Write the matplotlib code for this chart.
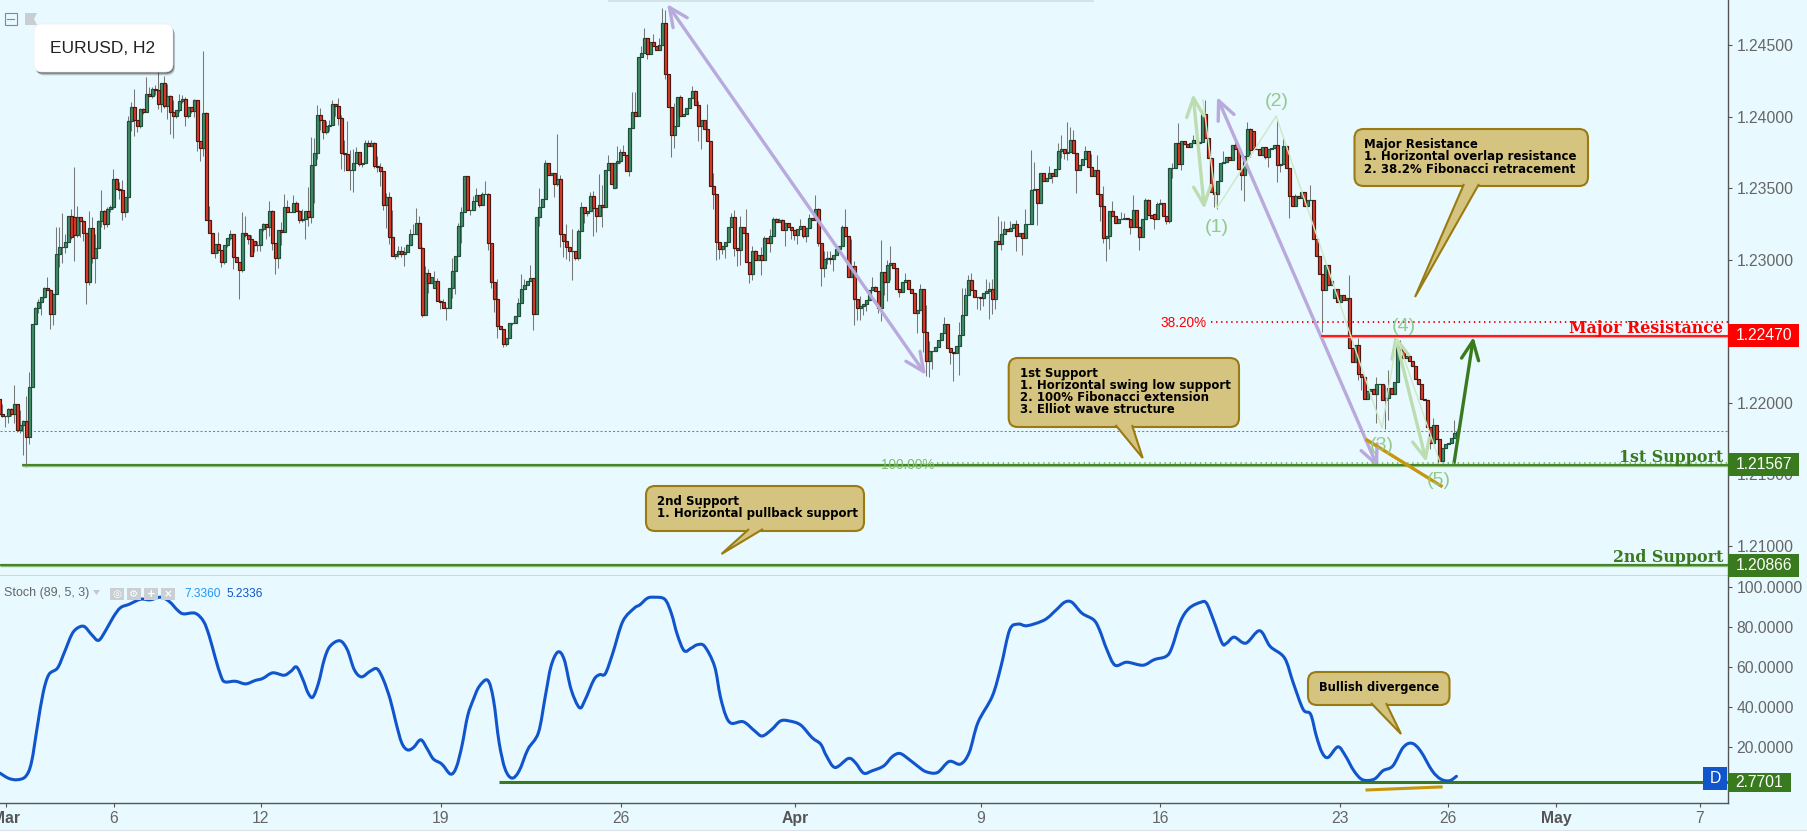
import matplotlib
matplotlib.use("Agg")
import matplotlib.pyplot as plt
import numpy as np
from matplotlib.patches import FancyBboxPatch, PathPatch, Polygon, Rectangle
from matplotlib.path import Path

BG = "#E8F9FF"
AXIS = "#555555"
GREY = "#666666"
GREEN = "#3A7A1E"
RED = "#FF0000"
PURPLE = "#B9A9DC"
PALE = "#BCDDB0"
GOLD = "#C8960C"
BLUE = "#1155CC"

# candles are in pips above 1.20000, one close per H2 bar
BASE = 1.2
PIP = 0.0001
first_open = 202.5
closes = [
    192.3, 191.1, 191.1, 195.5, 192.0, 199.5, 180.8, 184.3, 187.1, 176.0,
    211.4, 255.0, 266.2, 270.8, 274.3, 280.1, 279.0, 262.4, 276.0, 303.9,
    308.8, 308.8, 312.3, 330.5, 315.8, 317.2, 329.8, 327.0, 318.6, 284.3,
    322.1, 301.1, 308.1, 327.0, 334.0, 324.9, 335.4, 336.8, 356.4, 349.4,
    348.7, 333.3, 343.8, 396.9, 406.7, 397.6, 393.4, 405.3, 403.2, 415.8,
    414.4, 419.3, 418.6, 408.8, 423.5, 407.4, 414.4, 403.2, 400.4, 404.6,
    410.9, 412.3, 400.4, 406.7, 403.9, 411.6, 382.9, 378.0, 402.5, 327.7,
    318.6, 304.6, 310.9, 306.7, 298.3, 310.2, 315.1, 317.9, 301.8, 298.3,
    292.7, 318.6, 317.2, 314.4, 303.1, 310.3, 310.3, 321.5, 325.0, 322.9,
    334.1, 311.7, 301.2, 320.8, 319.4, 336.9, 333.4, 333.4, 339.6, 334.1,
    327.8, 328.7, 334.1, 329.9, 366.2, 374.6, 401.2, 397.7, 389.3, 393.5,
    394.2, 408.9, 407.5, 399.1, 374.6, 373.9, 362.7, 362.7, 367.6, 375.3,
    366.9, 367.6, 381.6, 379.5, 381.6, 365.5, 364.8, 362.0, 338.3, 343.8,
    315.9, 302.6, 304.0, 306.1, 304.0, 305.4, 310.3, 318.0, 318.0, 325.7,
    308.2, 261.3, 290.7, 283.7, 287.9, 285.1, 271.1, 270.4, 266.2, 266.2,
    280.2, 292.1, 302.6, 323.6, 333.4, 358.5, 334.8, 334.8, 341.1, 345.2,
    338.3, 345.9, 345.9, 311.7, 284.4, 272.5, 253.6, 251.5, 241.2, 245.2,
    255.7, 256.2, 260.8, 270.1, 279.5, 282.5, 285.5, 287.2, 262.0, 329.8,
    337.3, 342.4, 367.6, 359.2, 360.6, 352.9, 356.4, 317.9, 313.0, 308.8,
    306.0, 306.0, 301.1, 320.0, 336.8, 332.6, 334.0, 344.5, 336.1, 330.5,
    338.2, 336.8, 362.7, 367.6, 352.9, 367.6, 369.0, 375.3, 373.2, 362.0,
    392.1, 403.2, 400.4, 441.7, 444.5, 455.0, 443.8, 452.2, 449.4, 446.6,
    450.1, 465.5, 429.8, 406.7, 387.2, 393.5, 413.7, 400.4, 401.8, 406.0,
    413.0, 417.9, 408.1, 393.5, 397.6, 391.4, 383.0, 351.5, 345.9, 312.3,
    307.4, 309.5, 312.3, 322.8, 329.8, 308.1, 306.7, 322.8, 318.6, 298.3,
    290.0, 306.0, 299.7, 303.2, 299.7, 315.1, 311.6, 316.5, 328.4, 326.3,
    327.7, 320.7, 325.6, 322.8, 320.7, 317.2, 321.4, 323.5, 316.5, 322.1,
    329.1, 327.7, 335.4, 311.6, 294.1, 300.4, 301.1, 300.4, 303.2, 307.4,
    309.5, 322.8, 316.5, 287.8, 295.5, 272.5, 266.2, 267.6, 269.0, 271.7,
    278.7, 280.8, 278.0, 266.2, 291.3, 284.3, 296.2, 297.6, 294.1, 279.4,
    277.3, 284.3, 285.7, 279.4, 276.6, 262.7, 264.8, 279.4, 249.4, 229.1,
    236.1, 236.1, 238.9, 243.8, 248.7, 255.0, 238.2, 235.4, 234.7, 239.6,
    247.3, 261.3, 275.2, 285.7, 278.7, 273.8, 274.3, 273.1, 276.6, 278.0,
    279.4, 272.5, 313.0, 310.9, 318.0, 321.5, 320.1, 322.2, 325.0, 316.6,
    318.7, 315.2, 325.0, 325.0, 349.0, 349.4, 339.6, 360.6, 355.0, 357.1,
    360.6, 358.5, 363.4, 376.0, 377.4, 374.6, 375.3, 383.7, 374.6, 362.7,
    366.2, 370.4, 376.0, 364.8, 358.5, 362.7, 345.9, 337.5, 315.2, 316.6,
    334.0, 330.5, 325.6, 328.4, 328.4, 329.1, 328.4, 322.9, 334.7, 322.9,
    315.9, 328.4, 341.7, 331.2, 329.1, 328.4, 338.9, 339.6, 330.5, 327.1,
    364.1, 364.1, 381.6, 366.9, 383.0, 380.9, 378.8, 381.6, 383.7, 381.6,
    382.3, 401.9, 385.1, 371.1, 347.3, 345.9, 355.0, 367.6, 368.3, 371.8,
    369.7, 380.2, 377.4, 363.4, 359.2, 372.5, 391.4, 376.7, 377.4, 377.4,
    373.2, 378.8, 371.8, 377.4, 378.1, 380.2, 366.2, 366.9, 379.5, 364.1,
    344.5, 337.5, 344.5, 343.1, 347.3, 337.5, 341.7, 341.7, 314.5, 302.6,
    290.0, 278.8, 296.3, 282.3, 285.1, 279.5, 270.4, 275.3, 271.8, 273.2,
    238.2, 228.5, 240.3, 220.1, 218.0, 202.6, 208.2, 209.6, 206.1, 213.1,
    213.1, 201.9, 203.3, 210.3, 206.1, 214.5, 240.3, 236.8, 231.2, 232.7,
    229.2, 225.7, 216.6, 213.1, 202.6, 201.9, 183.0, 171.8, 184.4, 174.6,
    159.2, 168.3, 171.1, 171.8, 175.3, 178.8, 179.5,
]
# bars whose open does not sit on the previous close
gap_opens = {25: 329.8, 85: 313.1, 145: 280.2, 205: 350.1, 385: 331.9, 418: 390.0, 445: 273.2}

# wick lengths in pips beyond the body
upper_wicks = [
    0, 7, 0, 1, 1, 13, 0, 11, 1, 18, 10, 0, 1, 2, 0, 1, 8, 1, 1, 19,
    14, 24, 6, 0, 5, 35, 8, 0, 1, 0, 12, 8, 10, 1, 15, 1, 2, 2, 7, 1,
    5, 7, 0, 4, 4, 13, 0, 1, 1, 12, 5, 2, 3, 13, 0, 5, 9, 1, 9, 0,
    5, 3, 2, 0, 0, 1, 0, 0, 44, 1, 10, 0, 0, 9, 0, 0, 0, 3, 0, 0,
    0, 15, 12, 0,
    3, 0, 3, 0, 1, 0, 7, 1, 0, 0, 6, 9, 5, 0, 6, 2, 1, 7, 0, 17,
    20, 11, 7, 5, 0, 4, 4, 3, 0, 6, 2, 9, 23, 14, 10, 4, 0, 0, 2, 2,
    2, 1, 7, 3, 0, 3, 4, 19, 0, 4, 4, 4, 1, 4, 7, 11, 5, 1, 5, 3,
    0, 7, 2, 1, 2, 1, 0, 9, 0, 2, 4, 0, 0, 0, 4, 5, 0, 2, 9, 1,
    0, 0, 14,
    0, 0, 0, 0, 0, 0, 3, 11, 4, 0, 9, 0, 0, 13, 0, 2, 0, 0, 0, 32,
    3, 0, 12, 0, 16, 0, 2, 4, 0, 0, 3, 4, 0, 22, 14, 0, 6, 0, 0, 11,
    2, 5, 0, 0, 14, 14, 0, 5, 7, 0, 0, 6, 0, 5, 11, 9, 0, 0, 16, 0,
    2, 0, 0, 0, 4, 1, 3, 0, 0, 18, 0, 9, 0, 0, 0, 0, 0, 3, 5, 0,
    8, 0, 17, 0,
    4, 1, 0, 6, 2, 0, 5, 2, 1, 2, 1, 0, 0, 0, 0, 0, 5, 0, 0, 3,
    0, 10, 1, 0, 6, 5, 5, 0, 0, 0, 2, 13, 0, 19, 4, 0, 7, 0, 0, 0,
    7, 1, 0, 23, 0, 4, 12, 0, 0, 0, 0, 5, 0, 0, 0, 0, 4, 0, 19, 7,
    0, 0, 0, 0, 5, 0, 0, 0, 0, 9, 19, 5, 4, 5, 0, 0, 0, 0, 9, 5,
    7, 0, 18,
    9, 6, 0, 5, 0, 3, 0, 0, 11, 0, 28, 19, 0, 0, 0, 0, 5, 0, 0, 6,
    10, 0, 21, 9, 7, 0, 0, 0, 4, 0, 9, 0, 11, 0, 14, 0, 0, 7, 0, 0,
    5, 4, 0, 0, 11, 0, 0, 0, 2, 1, 0, 0, 2, 3, 0, 0, 0, 4, 0, 14,
    0, 0, 0, 0, 4, 0, 0, 3, 10, 0, 0, 0, 0, 0, 8, 0, 0, 0, 2, 0,
    0, 0, 5,
    1, 0, 0, 0, 0, 0, 0, 0, 0, 18, 0, 6, 0, 0, 0, 2, 0, 0, 0, 0,
    11, 0, 0, 0, 0, 0, 0, 3, 0, 0, 0, 0, 0, 16, 0, 0, 5, 0, 0, 0,
    0, 0, 5, 0, 0, 9, 13, 0, 0, 0, 4, 0, 0, 0, 0, 0, 0, 0, 0, 0,
    0, 5, 0, 0, 0, 0, 0, 0, 9, 2,
]
lower_wicks = [
    1, 1, 8, 5, 1, 6, 1, 2, 21, 21, 5, 0, 0, 3, 9, 1, 0, 11, 8, 0,
    9, 11, 4, 0, 1, 18, 1, 11, 5, 15, 2, 3, 17, 0, 4, 3, 2, 2, 1, 0,
    6, 5, 3, 10, 7, 11, 4, 1, 1, 0, 0, 1, 3, 3, 5, 1, 9, 15, 15, 1,
    1, 1, 7, 1, 1, 4, 7, 9, 5, 0, 0, 0, 3, 2, 3, 1, 1, 1, 8, 0,
    20, 1, 1, 3,
    0, 5, 4, 4, 1, 8, 6, 5, 11, 7, 9, 0, 0, 0, 0, 0, 2, 1, 14, 6,
    4, 26, 4, 7, 5, 1, 3, 0, 7, 5, 11, 12, 0, 14, 15, 0, 1, 2, 0, 0,
    0, 1, 3, 10, 3, 16, 5, 0, 2, 2, 2, 8, 0, 0, 0, 0, 0, 1, 0, 7,
    0, 0, 0, 5, 0, 8, 0, 7, 16, 0, 12, 0, 0, 3, 0, 0, 1, 0, 0, 5,
    4, 9, 8,
    0, 2, 1, 0, 1, 0, 0, 0, 0, 0, 0, 11, 0, 6, 0, 0, 0, 0, 9, 1,
    9, 11, 8, 7, 20, 1, 1, 0, 7, 2, 0, 19, 11, 0, 14, 0, 0, 0, 0, 17,
    1, 0, 0, 3, 0, 0, 0, 0, 0, 3, 0, 0, 0, 0, 0, 3, 0, 15, 9, 0,
    0, 0, 0, 0, 0, 0, 10, 16, 0, 0, 0, 10, 12, 7, 3, 8, 0, 0, 5, 11,
    10, 0, 0, 6,
    4, 0, 0, 10, 0, 0, 6, 0, 0, 0, 0, 11, 0, 6, 3, 6, 0, 1, 4, 0,
    0, 0, 2, 12, 6, 3, 3, 8, 0, 0, 0, 0, 0, 0, 18, 8, 8, 6, 5, 0,
    0, 0, 3, 9, 9, 13, 10, 0, 0, 3, 0, 0, 0, 0, 0, 14, 0, 14, 10, 11,
    12, 0, 0, 0, 0, 0, 8, 19, 0, 20, 0, 0, 0, 0, 0, 8, 8, 5, 0, 19,
    10, 7, 0,
    4, 0, 0, 0, 0, 10, 0, 12, 0, 0, 0, 0, 15, 0, 0, 0, 0, 5, 0, 0,
    5, 4, 5, 0, 0, 16, 0, 0, 0, 0, 0, 0, 0, 10, 3, 16, 9, 0, 0, 0,
    0, 0, 0, 5, 0, 0, 9, 0, 0, 0, 0, 7, 0, 0, 0, 2, 1, 7, 0, 0,
    4, 0, 0, 0, 0, 0, 0, 0, 0, 0, 0, 9, 10, 0, 0, 0, 0, 0, 0, 0,
    10, 18, 0,
    5, 0, 0, 0, 0, 1, 7, 0, 0, 12, 5, 0, 0, 15, 0, 0, 0, 0, 0, 0,
    0, 0, 0, 0, 29, 0, 0, 0, 0, 0, 0, 0, 0, 0, 0, 0, 4, 9, 0, 0,
    0, 0, 20, 0, 0, 20, 15, 0, 0, 0, 0, 0, 0, 0, 0, 0, 0, 0, 0, 0,
    4, 0, 0, 0, 0, 0, 0, 0, 0, 0,
]

# stochastic line, read as (bar, value)
stoch_bars = [
    0.2, 3.1, 6.0, 8.8, 10.7, 12.7, 14.6, 16.5, 19.4, 21.6, 24.1, 26.0, 28.3, 30.8, 33.1, 35.6,
    38.1, 40.4, 43.3, 47.1, 50.3, 53.8, 56.7, 59.5, 61.4, 65.3, 68.1, 70.0, 72.0, 73.9, 75.2, 78.7,
    82.1, 85.3, 87.8, 91.1, 94.9, 97.2, 99.1, 101.2, 102.9, 104.5, 106.4, 108.3, 110.2, 113.5, 116.0, 118.3,
    120.7, 123.6, 125.9, 128.0, 130.3, 132.2, 134.1, 136.0, 138.0, 140.5, 142.7, 144.7, 147.5, 150.4, 152.3, 154.2,
    156.1, 158.0, 160.0, 162.8, 164.7, 166.6, 168.6, 170.9, 173.3, 176.2, 179.7, 182.0, 183.9, 186.2, 188.3, 190.6,
    193.4, 195.3, 198.2, 200.1, 202.0, 204.5, 207.8, 211.6, 213.5, 216.0, 218.3, 221.8, 224.0, 226.0, 228.3, 230.7,
    232.7, 235.1, 238.4, 240.3, 242.2, 244.1, 248.0, 251.8, 254.3, 257.5, 260.4, 263.3, 267.1, 270.9, 273.8, 275.7,
    278.6, 283.0, 285.3, 288.1, 291.0, 294.8, 297.7, 300.2, 303.1, 306.0, 308.9, 312.7, 316.6, 320.4, 323.3, 326.2,
    331.0, 333.9, 336.8, 339.7, 342.6, 348.4, 352.3, 355.1, 357.5, 360.9, 364.8, 366.7, 369.2, 371.9, 375.8, 381.2,
    385.0, 388.9, 390.8, 393.7, 396.6, 400.5, 402.4, 404.7, 407.6, 409.1, 411.6, 415.5, 420.1, 423.6, 428.4, 431.3,
    434.6, 437.1, 439.0, 440.9, 442.9, 446.2, 448.7, 451.5, 454.4, 458.3, 461.2, 464.5, 467.9, 470.8, 473.7, 477.6,
    480.5, 483.4, 485.7,
]
stoch_values = [
    7.2, 4.6, 3.9, 5.6, 12.5, 30.7, 47.2, 56.3, 59.6, 67.1, 76.2, 79.5, 80.3, 76.2, 73.4, 78.7,
    85.3, 89.7, 91.4, 93.9, 93.6, 94.9, 92.7, 88.3, 86.6, 86.9, 82.8, 75.4, 64.6, 55.5, 52.7, 53.0,
    51.7, 53.4, 54.4, 57.2, 56.0, 58.0, 60.1, 53.8, 47.2, 45.1, 52.2, 63.8, 70.4, 73.2, 68.7, 58.8,
    55.2, 58.0, 59.2, 53.8, 43.9, 32.4, 22.4, 18.8, 19.9, 23.8, 19.1, 14.2, 11.7, 6.7, 10.0, 20.8,
    35.7, 43.9, 50.5, 53.5, 43.9, 22.4, 9.2, 4.7, 8.4, 19.1, 27.4, 45.6, 60.5, 67.6, 63.8, 48.9,
    39.8, 43.9, 53.8, 56.3, 56.8, 67.1, 82.8, 89.4, 91.1, 94.4, 94.9, 93.9, 86.9, 76.2, 68.2, 69.6,
    71.2, 70.4, 60.5, 45.6, 35.7, 32.0, 32.8, 28.2, 25.7, 29.0, 33.2, 33.2, 31.2, 24.9, 21.6, 15.8,
    10.0, 14.5, 12.5, 7.2, 8.4, 10.8, 15.5, 17.0, 14.2, 10.8, 7.9, 7.5, 13.0, 11.7, 17.5, 32.4,
    45.6, 60.5, 78.7, 81.5, 80.7, 83.6, 88.6, 92.4, 92.4, 86.9, 83.6, 78.7, 68.7, 61.0, 62.5, 61.0,
    63.8, 65.4, 69.6, 82.8, 89.4, 92.4, 91.9, 83.6, 72.0, 72.0, 75.0, 72.0, 78.2, 70.4, 64.6, 52.2,
    39.0, 36.5, 25.7, 17.5, 15.0, 20.3, 15.8, 8.4, 3.9, 4.2, 8.4, 10.8, 19.9, 22.1, 18.3, 8.4,
    4.2, 3.4, 5.6,
]

date_ticks = [2.2, 38.2, 87.2, 147.2, 207.2, 265.2, 327.2, 386.9, 446.9, 482.9, 518.9, 566.9]
date_labels = ["Mar", "6", "12", "19", "26", "Apr", "9", "16", "23", "26", "May", "7"]
month_labels = ["Mar", "Apr", "May"]
price_ticks = [1.245, 1.24, 1.235, 1.23, 1.225, 1.22, 1.215, 1.21]
stoch_ticks = [20, 40, 60, 80, 100]

major_resistance = 1.2247
first_support = 1.21567
second_support = 1.20866
fib_382 = 1.22566
fib_100 = 1.2158
last_price_line = 1.21804
stoch_support = 2.7701

# drawn lines on the chart as (bar, price)
wave_bars = [401.2, 405.9, 425.6, 460.9, 465.9, 480.2]
wave_prices = [1.24119, 1.23364, 1.24007, 1.21825, 1.22455, 1.21587]


def price_px(p):
    return 117 + (1.24 - p) * 14300


def stoch_px(v):
    return 587 + (100 - v) * 2.0055


def smooth_path(xs, ys):
    # bezier through the points, the line is rounded in the original
    pts = np.column_stack([xs, ys])
    verts = [pts[0]]
    codes = [Path.MOVETO]
    for k in range(len(pts) - 1):
        p0 = pts[max(k - 1, 0)]
        p1, p2 = pts[k], pts[k + 1]
        p3 = pts[min(k + 2, len(pts) - 1)]
        verts += [p1 + (p2 - p0) / 6, p2 - (p3 - p1) / 6, p2]
        codes += [Path.CURVE4] * 3
    return Path(verts, codes)


def arrow(ax, start, end, color, lw, both=False, alpha=1.0):
    head = "<->" if both else "->"
    ax.annotate("", xy=end, xytext=start, annotation_clip=False,
                arrowprops=dict(arrowstyle=head + ",head_length=1.35,head_width=0.62", color=color,
                                lw=lw, alpha=alpha, shrinkA=0, shrinkB=0, mutation_scale=10))


def callout(ov, x0, y0, x1, y1, pointer, lines, text_x, text_y, pitch=12.2, size=8.5):
    ov.add_patch(FancyBboxPatch((x0, y0), x1 - x0, y1 - y0, boxstyle="round,pad=0,rounding_size=9",
                                fc="#D4C47F", ec="#9A7B12", lw=1.5, zorder=5))
    ov.add_patch(Polygon(pointer, closed=False, fc="#D4C47F", ec="#9A7B12", lw=1.5, zorder=6,
                         joinstyle="miter"))
    for k, line in enumerate(lines):
        ov.text(text_x, text_y + k * pitch, line, fontsize=size, fontweight="bold", color="black",
                family="DejaVu Sans", va="center", ha="left", zorder=7)


closes_a = np.array(closes)
opens_a = np.r_[first_open, closes_a[:-1]]
for idx, val in gap_opens.items():
    opens_a[idx] = val
bars = np.arange(len(closes_a))
tops = np.maximum(opens_a, closes_a)
bots = np.minimum(opens_a, closes_a)
highs = tops + np.array(upper_wicks)
lows = bots - np.array(lower_wicks)

plt.rcParams["font.family"] = ["Liberation Sans", "DejaVu Sans"]

W, H = 1807, 833
fig = plt.figure(figsize=(W / 100, H / 100), dpi=100, facecolor=BG)
ax = fig.add_axes([0, (H - 576) / H, 1728 / W, 576 / H], facecolor=BG)
st = fig.add_axes([0, (H - 803) / H, 1728 / W, 227 / H], facecolor=BG)

xlim = (0.223, 576.22)
ax.set_xlim(*xlim)
ax.set_ylim(1.24 - 459 / 14300, 1.24 + 117 / 14300)
st.set_xlim(*xlim)
st.set_ylim(100 - 216 / 2.0055, 100 + 11 / 2.0055)

# candles
to_price = lambda a: BASE + np.asarray(a) * PIP
ax.vlines(bars, to_price(lows), to_price(highs), color="#777777", lw=0.75, zorder=2)
is_up = closes_a >= opens_a
for mask, fill, edge in [(is_up, "#3E8E68", "#1F4F3A"), (~is_up, "#DE3A28", "#4A1A12")]:
    ax.bar(bars[mask], (tops[mask] - bots[mask]) * PIP, bottom=to_price(bots[mask]), width=0.8,
           color=fill, edgecolor=edge, linewidth=0.85, zorder=3)

# horizontal levels
ax.plot(xlim, [last_price_line] * 2, color="#4F9A78", lw=0.75, ls=(0, (2, 2)), zorder=1)
ax.plot([312.6, xlim[1]], [fib_100] * 2, color="#7FBF6A", lw=1.4, ls=(0, (0.7, 1.9)), zorder=4)
ax.plot([403.9, xlim[1]], [fib_382] * 2, color=RED, lw=1.4, ls=(0, (0.7, 1.9)), zorder=4)
for start, level, dark, soft in [(7.6, first_support, GREEN, "#8DBB78"), (xlim[0], second_support, GREEN, "#8DBB78"),
                                 (440.6, major_resistance, RED, "#FF9A9A")]:
    ax.plot([start, xlim[1]], [level] * 2, color=soft, lw=2.4, zorder=4, solid_capstyle="butt")
    ax.plot([start, xlim[1]], [level] * 2, color=dark, lw=1.2, zorder=4, solid_capstyle="butt")

# wave count and arrows
ax.plot(wave_bars, wave_prices, color="#CDE8C2", lw=1.0, zorder=4)
arrow(ax, (222.6, 1.2479), (308.9, 1.22196), PURPLE, 2.4, both=True)
arrow(ax, (405.9, 1.2414), (459.6, 1.21545), PURPLE, 2.4, both=True)
arrow(ax, (397.9, 1.24161), (401.7, 1.23357), PALE, 2.4, both=True)
arrow(ax, (465.2, 1.22476), (475.7, 1.21587), PALE, 2.4, both=True)
arrow(ax, (484.9, 1.2158), (491.4, 1.22462), GREEN, 2.4)
ax.plot([455.9, 480.6], [1.21741, 1.2142], color=GOLD, lw=2.4, zorder=5)

# stochastic pane
st.plot([166.6, xlim[1]], [stoch_support] * 2, color=GREEN, lw=2.2, zorder=2, solid_capstyle="butt")
st.add_patch(PathPatch(smooth_path(stoch_bars, stoch_values), fc="none", ec=BLUE, lw=2.2, zorder=3,
                       capstyle="round", joinstyle="round"))
st.plot([455.9, 480.6], [-1.2, 0.3], color=GOLD, lw=2.2, zorder=3)

# axes and ticks
for a in (ax, st):
    for side in ("left", "top"):
        a.spines[side].set_visible(False)
    for side in ("right", "bottom"):
        a.spines[side].set_color(AXIS)
        a.spines[side].set_linewidth(1.0)
    a.yaxis.tick_right()
    a.tick_params(axis="y", length=3, width=0.8, color=AXIS, labelcolor=GREY, labelsize=11.3, pad=3)
ax.set_xticks([])
ax.set_yticks(price_ticks, [f"{p:.5f}" for p in price_ticks])
st.set_yticks(stoch_ticks, [f"{v:.4f}" for v in stoch_ticks])
st.set_xticks(date_ticks, date_labels)
st.tick_params(axis="x", length=3, width=0.8, color=AXIS, labelcolor=GREY, labelsize=11.3, pad=2.5)
for lab in st.get_xticklabels():
    if lab.get_text() in month_labels:
        lab.set_fontweight("bold")
        lab.set_color(AXIS)

# overlay in pixels for labels, callouts and the interface bits
ov = fig.add_axes([0, 0, 1, 1], facecolor="none", zorder=10)
ov.set_xlim(0, W)
ov.set_ylim(H, 0)
ov.axis("off")

ov.add_patch(Rectangle((608, 0), 486, 1.6, fc="#D3E3E8", ec="none"))
ov.add_patch(Rectangle((0, 830), W, 3, fc="white", ec="none"))
ov.plot([0, W], [830, 830], color="#DDE3E6", lw=0.8)

# symbol box
for off, alpha in [(3.5, 0.12), (2.5, 0.22), (1.5, 0.35)]:
    ov.add_patch(FancyBboxPatch((34 + off * 0.6, 24 + off), 139, 48, boxstyle="round,pad=0,rounding_size=8",
                                fc="black", ec="none", alpha=alpha))
ov.add_patch(FancyBboxPatch((34, 24), 139, 48, boxstyle="round,pad=0,rounding_size=8", fc="white", ec="#EEEEEE", lw=0.5))
ov.text(50.5, 48, "EURUSD, H2", fontsize=12.5, color="#222222", va="center", ha="left")
ov.add_patch(Rectangle((5, 13), 12, 12, fc="none", ec="#888888", lw=0.8))
ov.plot([7.5, 14.5], [19, 19], color="#888888", lw=0.8)
ov.add_patch(Polygon([(25, 13), (37, 13), (34, 19), (37, 25), (25, 25)], fc="#C9CED2", ec="none"))

# price labels
for level, text, fill in [(major_resistance, "1.22470", RED), (first_support, "1.21567", GREEN),
                          (second_support, "1.20866", GREEN)]:
    yc = price_px(level)
    ov.add_patch(Rectangle((1728.5, yc - 11.5), 71, 23, fc=fill, ec="none", zorder=3))
    ov.text(1736, yc, text, fontsize=11.3, color="white", va="center", ha="left", zorder=4)
ysc = stoch_px(stoch_support)
ov.add_patch(Rectangle((1728.5, ysc - 9), 63, 19, fc=GREEN, ec="none", zorder=3))
ov.text(1735, ysc + 0.5, "2.7701", fontsize=11.3, color="white", va="center", ha="left", zorder=4)
ov.add_patch(Rectangle((1703, ysc - 15), 24.5, 23, fc=BLUE, ec="none", zorder=3))
ov.text(1715, ysc - 3.5, "D", fontsize=11.3, color="white", va="center", ha="center", zorder=4)

# level names
for yc, text, col in [(328, "Major Resistance", RED), (457, "1st Support", GREEN), (557, "2nd Support", GREEN)]:
    ov.text(1723, yc, text, fontsize=11.4, color=col, fontweight="bold", family="DejaVu Serif",
            va="center", ha="right")
ov.text(1207, 323, "38.20%", fontsize=9.8, color=RED, va="center", ha="right")
ov.text(934, 464.5, "100.00%", fontsize=9.8, color="#7FBF6A", va="center", ha="right")

# wave labels
for x, y, text in [(1217, 227, "(1)"), (1277, 101, "(2)"), (1382, 445, "(3)"), (1403.5, 326, "(4)"), (1439, 480, "(5)")]:
    ov.text(x, y, text, fontsize=14, color="#93C98A", va="center", ha="center")

# callouts
callout(ov, 1354.5, 129, 1588, 186, [(1464, 184), (1415, 297), (1479, 184)],
        ["Major Resistance", "1. Horizontal overlap resistance", "2. 38.2% Fibonacci retracement"], 1364.5, 144.7)
callout(ov, 1008.7, 358, 1239, 427, [(1115.5, 425), (1142.7, 458), (1132, 425)],
        ["1st Support", "1. Horizontal swing low support", "2. 100% Fibonacci extension", "3. Elliot wave structure"], 1020, 373)
callout(ov, 646, 486, 864, 531, [(749, 529), (721.5, 554), (763, 529)],
        ["2nd Support", "1. Horizontal pullback support"], 657, 501.7)
callout(ov, 1308, 672, 1449.5, 705, [(1371, 703), (1401, 734), (1386, 703)],
        ["Bullish divergence"], 1319, 687.5, size=8.3)

# stochastic legend
ov.text(4, 593, "Stoch (89, 5, 3)", fontsize=9.0, color=GREY, va="center", ha="left")
ov.add_patch(Polygon([(93, 590), (100, 590), (96.5, 595)], fc="#C4C9CC", ec="none"))
for x0, sym in zip([110, 127, 144, 161], ["◎", "⚙", "+", "×"]):
    ov.add_patch(Rectangle((x0, 588), 14, 12, fc="#C9CFD3", ec="none"))
    ov.text(x0 + 7, 594, sym, fontsize=7.5, color="white", fontweight="bold", family="DejaVu Sans", va="center", ha="center")
ov.text(184, 594, "7.3360", fontsize=8.6, color="#2196F3", va="center", ha="left")
ov.text(227, 594, "5.2336", fontsize=8.6, color=BLUE, va="center", ha="left")

fig.savefig("out.png", dpi=100, facecolor=BG)
